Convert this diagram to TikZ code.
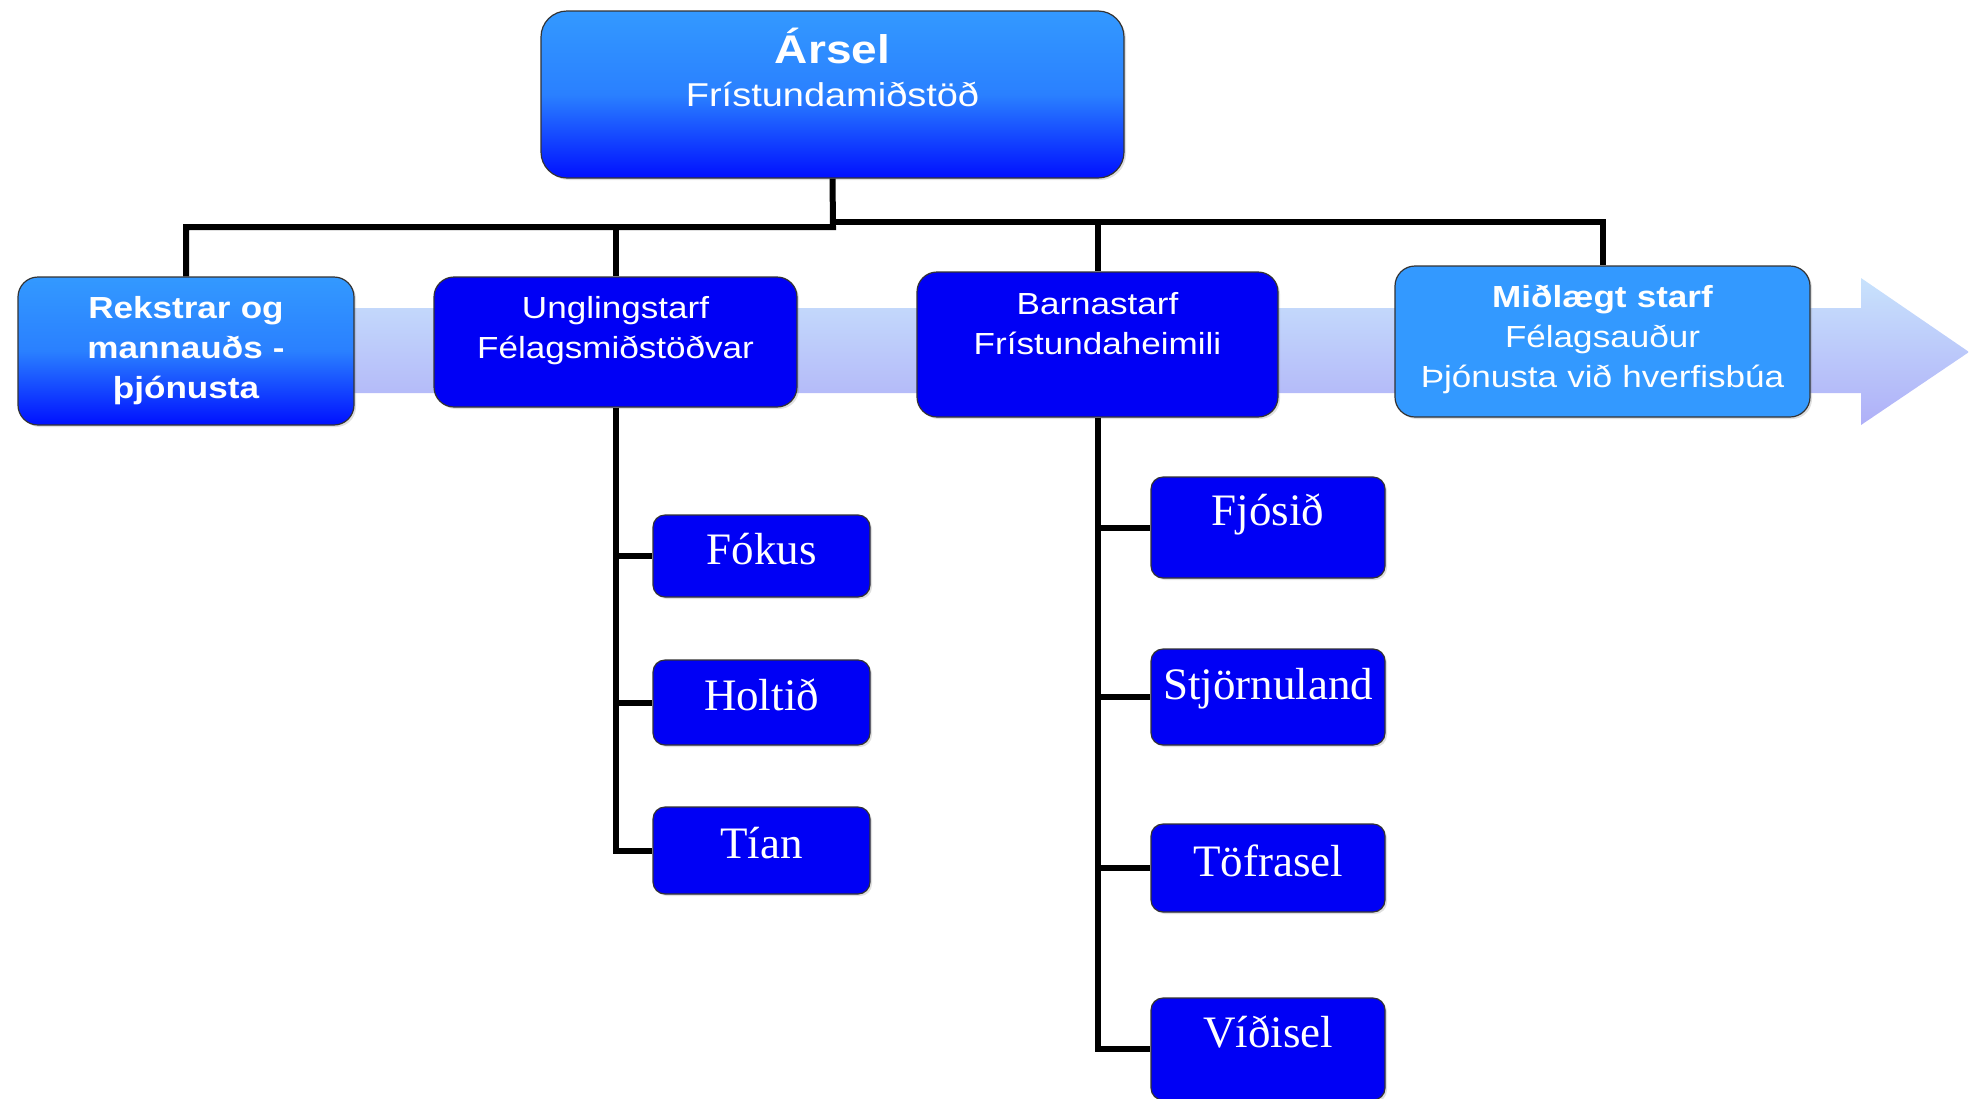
\documentclass[tikz,border=0pt]{standalone}
\usepackage{fontspec}
\setmainfont{Liberation Serif}
\newfontfamily\arialx[FakeStretch=1.15]{Liberation Sans}
\usetikzlibrary{shadows}

\definecolor{lightb}{HTML}{3399FF}
\definecolor{midb}{HTML}{2A80FF}
\definecolor{darkb}{HTML}{0010FF}
\definecolor{boxb}{HTML}{0000F5}
\definecolor{bandtop}{HTML}{C8E2FC}
\definecolor{bandbot}{HTML}{AFB0F8}

\tikzset{
  anybox/.style={draw=black!80, line width=1.2pt, text=white, inner sep=0pt, align=center,
    drop shadow={opacity=0.25, shadow xshift=2pt, shadow yshift=-2pt}},
  gradfill/.style={top color=lightb, bottom color=darkb, middle color=midb},
  % width, height above first baseline, depth below it
  rowbox/.style n args={3}{anybox, rounded corners=20pt, text width=#1, text height=#2, text depth=#3,
    font=\arialx\fontsize{30.5}{40}\selectfont},
  leaf/.style n args={2}{anybox, fill=boxb, rounded corners=12pt, minimum width=#1, minimum height=#2,
    text height=26pt, text depth=22pt, font=\fontsize{45}{50}\selectfont},
  lowleaf/.style={text height=32pt, text depth=16pt},
  highleaf/.style={text height=22pt, text depth=26pt},
  conn/.style={line width=6pt, black},
}

\begin{document}
\begin{tikzpicture}[x=1pt, y=-1pt]
\useasboundingbox (0,0) rectangle (1969,1098);

% band arrow behind the second row
\path[top color=bandtop, bottom color=bandbot] (60,308) -- (1861,308) -- (1861,278) -- (1969,352)
  -- (1861,425) -- (1861,393) -- (60,393) -- cycle;

% top
\node[anybox, gradfill, rounded corners=26pt, text width=583pt, text height=52pt, text depth=115pt,
  font=\arialx\fontsize{33}{43}\selectfont] (arsel) at (832.5,94.5)
  {{\fontsize{40}{43}\selectfont\bfseries Ársel}\\Frístundamiðstöð};

% second row
\node[rowbox={336pt}{41pt}{107pt}, gradfill, font=\arialx\bfseries\fontsize{30.5}{40}\selectfont] (rek) at (186,351)
  {Rekstrar og\\mannauðs -\\þjónusta};
\node[rowbox={363pt}{41pt}{89pt}, fill=boxb] (ungl) at (615.5,342) {Unglingstarf\\Félagsmiðstöðvar};
\node[rowbox={361pt}{42pt}{103pt}, fill=boxb] (barn) at (1097.5,344.5) {Barnastarf\\Frístundaheimili};
\node[rowbox={415pt}{41pt}{110pt}, fill=lightb] (mid) at (1602.5,341.5)
  {\textbf{Miðlægt starf}\\Félagsauður\\Þjónusta við hverfisbúa};

% unglingastarf
\node[leaf={217pt}{82pt}, lowleaf] (fokus) at (761.5,556) {Fókus};
\node[leaf={217pt}{85pt}, lowleaf] (holt) at (761.5,702.5) {Holtið};
\node[leaf={217pt}{87pt}, lowleaf] (tian) at (761.5,850.5) {Tían};

% barnastarf
\node[leaf={234pt}{101pt}, highleaf] (fjos) at (1268,527.5) {Fjósið};
\node[leaf={234pt}{96pt}] (stjorn) at (1268,697) {Stjörnuland};
\node[leaf={234pt}{88pt}, lowleaf] (tofra) at (1268,868) {Töfrasel};
\node[leaf={234pt}{102pt}, highleaf] (vidi) at (1268,1049) {Víðisel};

% lines
\coordinate (busl) at (833,227);
\coordinate (busr) at (833,222);
\draw[conn] (arsel.south) -- (busl) -| (rek.north);
\draw[conn] (busl) -| (ungl.north);
\draw[conn] (busr) -| (barn.north);
\draw[conn] (busr) -| (mid.north);

\draw[conn] (ungl.south) |- (tian.west);
\foreach \n in {fokus,holt}
  \draw[conn] (ungl.south |- \n.west) -- (\n.west);

\draw[conn] (barn.south) |- (vidi.west);
\foreach \n in {fjos,stjorn,tofra}
  \draw[conn] (barn.south |- \n.west) -- (\n.west);
\end{tikzpicture}
\end{document}
